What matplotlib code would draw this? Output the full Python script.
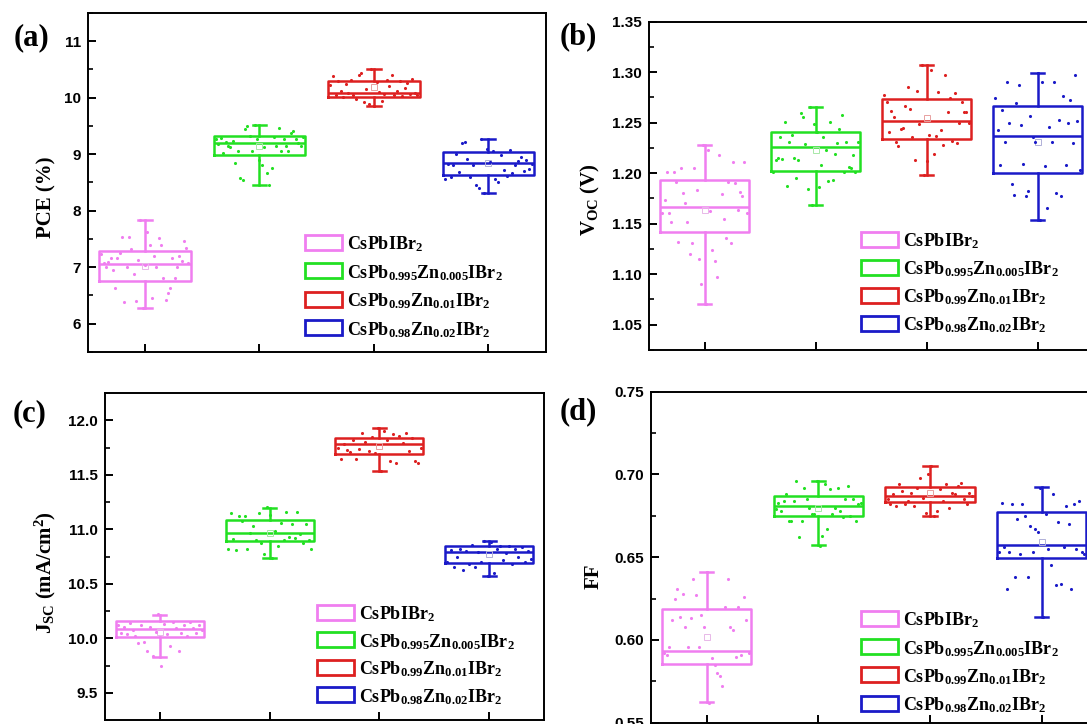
import matplotlib
matplotlib.use('Agg')
import matplotlib.pyplot as plt
from matplotlib.ticker import MultipleLocator, FixedLocator, NullFormatter
from matplotlib.patches import Rectangle
import numpy as np

plt.rcParams.update({
    'font.family': 'Liberation Sans',
    'font.weight': 'bold',
    'mathtext.fontset': 'custom',
    'mathtext.rm': 'Liberation Serif:bold',
    'mathtext.it': 'Liberation Serif:bold',
    'mathtext.bf': 'Liberation Serif:bold',
    'mathtext.default': 'rm',
})

# ---------------- data ----------------
samples = ['CsPbIBr$_2$',
           'CsPb$_{0.995}$Zn$_{0.005}$IBr$_2$',
           'CsPb$_{0.99}$Zn$_{0.01}$IBr$_2$',
           'CsPb$_{0.98}$Zn$_{0.02}$IBr$_2$']
colors = ['#F07EF0', '#22E022', '#DD2020', '#1A1AC8']
mean_colors = ['#E8B8E8', '#A8E8A8', '#E8A0A0', '#B0B0D8']

# PCE (%)
pce_q1 = [6.75, 8.98, 10.01, 8.63]
pce_med = [7.06, 9.20, 10.08, 8.85]
pce_q3 = [7.29, 9.33, 10.30, 9.04]
pce_lo = [6.28, 8.46, 9.86, 8.31]
pce_hi = [7.84, 9.51, 10.51, 9.26]
pce_mean = [7.02, 9.14, 10.19, 8.84]
pce_p0 = [7.24, 7.07, 7.01, 7.09, 7.16, 6.94, 6.63, 7.16, 7.25, 7.54, 6.39, 7.01, 7.54, 7.32,
          6.87, 6.40, 7.13, 7.84, 6.28, 7.04, 7.63, 7.40, 6.46, 7.19, 7.01, 7.52, 7.40, 6.81,
          6.42, 6.54, 6.63, 7.16, 6.81, 7.01, 7.19, 7.10, 7.46, 7.34, 7.07]
pce_p1 = [9.27, 9.18, 9.29, 9.02, 9.22, 9.15, 9.13, 9.24, 8.85, 9.06, 8.58, 8.55, 9.44, 9.49,
          9.33, 9.05, 9.51, 9.26, 8.90, 8.80, 9.13, 8.67, 8.46, 8.76, 9.30, 9.15, 9.46, 9.05,
          9.27, 9.15, 9.06, 9.38, 9.41, 9.27, 9.20, 9.15, 9.30]
pce_p2 = [10.22, 10.38, 10.05, 10.30, 10.12, 10.02, 10.25, 10.08, 10.31, 10.04, 9.98, 10.40,
          10.44, 9.92, 10.15, 9.88, 10.51, 9.86, 10.28, 10.10, 9.95, 10.06, 10.32, 10.20, 10.41,
          10.05, 10.12, 10.30, 10.03, 10.18, 10.26, 10.06, 10.34, 10.08, 10.05]
pce_p3 = [8.56, 8.82, 8.59, 8.80, 9.00, 8.68, 9.19, 9.21, 8.92, 8.60, 8.80, 8.45, 8.40, 9.26,
          8.31, 9.10, 8.86, 9.05, 8.56, 8.50, 8.98, 8.72, 8.62, 9.08, 8.66, 8.80, 8.88, 8.95,
          8.70, 8.90, 8.74, 8.82]

# Voc (V)
voc_q1 = [1.142, 1.202, 1.234, 1.200]
voc_med = [1.167, 1.226, 1.252, 1.237]
voc_q3 = [1.193, 1.241, 1.273, 1.267]
voc_lo = [1.071, 1.169, 1.198, 1.154]
voc_hi = [1.228, 1.266, 1.307, 1.299]
voc_mean = [1.164, 1.223, 1.255, 1.231]
voc_p0 = [1.161, 1.173, 1.201, 1.161, 1.152, 1.201, 1.191, 1.132, 1.205, 1.180, 1.171, 1.152,
          1.120, 1.131, 1.205, 1.183, 1.115, 1.090, 1.228, 1.071, 1.223, 1.163, 1.124, 1.113,
          1.097, 1.218, 1.179, 1.155, 1.136, 1.191, 1.131, 1.211, 1.190, 1.164, 1.181, 1.177,
          1.211, 1.161]
voc_p1 = [1.201, 1.213, 1.215, 1.236, 1.214, 1.251, 1.187, 1.231, 1.238, 1.215, 1.195, 1.213,
          1.260, 1.256, 1.229, 1.184, 1.266, 1.169, 1.249, 1.241, 1.186, 1.208, 1.236, 1.223,
          1.192, 1.251, 1.193, 1.219, 1.230, 1.244, 1.258, 1.201, 1.231, 1.206, 1.205, 1.218,
          1.201, 1.231]
voc_p2 = [1.277, 1.271, 1.241, 1.262, 1.256, 1.231, 1.227, 1.244, 1.245, 1.267, 1.285, 1.264,
          1.236, 1.213, 1.281, 1.249, 1.307, 1.198, 1.212, 1.238, 1.302, 1.219, 1.237, 1.280,
          1.243, 1.228, 1.297, 1.261, 1.274, 1.232, 1.279, 1.230, 1.250, 1.271, 1.261, 1.261,
          1.250]
voc_p3 = [1.274, 1.243, 1.208, 1.263, 1.231, 1.290, 1.250, 1.189, 1.178, 1.270, 1.287, 1.248,
          1.209, 1.177, 1.182, 1.257, 1.236, 1.231, 1.299, 1.154, 1.290, 1.207, 1.166, 1.246,
          1.231, 1.290, 1.180, 1.253, 1.177, 1.276, 1.208, 1.250, 1.272, 1.230, 1.297, 1.252,
          1.203]

# Jsc (mA/cm2)
jsc_q1 = [10.007, 10.893, 11.693, 10.694]
jsc_med = [10.085, 10.967, 11.780, 10.795]
jsc_q3 = [10.155, 11.084, 11.838, 10.844]
jsc_lo = [9.826, 10.733, 11.533, 10.570]
jsc_hi = [10.217, 11.195, 11.930, 10.893]
jsc_mean = [10.06, 10.97, 11.76, 10.77]
jsc_p0 = [10.12, 10.05, 10.10, 10.04, 10.14, 10.08, 10.02, 9.96, 10.12, 9.97, 9.88, 10.10,
          9.84, 10.06, 10.22, 9.75, 10.13, 10.04, 9.93, 10.15, 10.09, 9.88, 10.05, 10.12,
          10.02, 10.15, 10.09, 10.05, 10.12, 10.08]
jsc_p1 = [10.82, 11.15, 10.91, 10.81, 11.12, 11.08, 11.12, 10.82, 10.97, 11.03, 10.90, 11.15,
          10.87, 10.77, 11.20, 11.13, 10.74, 10.98, 10.85, 11.06, 10.90, 11.16, 10.93, 11.05,
          10.92, 11.16, 10.96, 10.87, 11.05, 10.90, 10.82]
jsc_p2 = [11.75, 11.64, 11.78, 11.73, 11.71, 11.82, 11.64, 11.74, 11.88, 11.80, 11.72, 11.85,
          11.70, 11.93, 11.53, 11.90, 11.82, 11.63, 11.87, 11.61, 11.86, 11.79, 11.88, 11.72,
          11.84, 11.63, 11.61, 11.75]
jsc_p3 = [10.70, 10.81, 10.65, 10.75, 10.82, 10.63, 10.80, 10.68, 10.86, 10.65, 10.79, 10.70,
          10.89, 10.57, 10.88, 10.60, 10.82, 10.85, 10.72, 10.78, 10.85, 10.68, 10.82, 10.75,
          10.84, 10.70, 10.80, 10.73]

# FF
ff_q1 = [0.5853, 0.6751, 0.6832, 0.6493]
ff_med = [0.5933, 0.6811, 0.6872, 0.6574]
ff_q3 = [0.6185, 0.6872, 0.6922, 0.6771]
ff_lo = [0.5623, 0.6574, 0.6751, 0.6140]
ff_hi = [0.6412, 0.6962, 0.7053, 0.6922]
ff_mean = [0.602, 0.680, 0.689, 0.659]
ff_p0 = [0.592, 0.591, 0.596, 0.612, 0.625, 0.631, 0.614, 0.628, 0.608, 0.596, 0.613, 0.637,
         0.627, 0.596, 0.615, 0.608, 0.641, 0.562, 0.589, 0.585, 0.580, 0.578, 0.572, 0.620,
         0.637, 0.608, 0.606, 0.590, 0.620, 0.591, 0.626, 0.612, 0.592]
ff_p1 = [0.679, 0.683, 0.678, 0.684, 0.688, 0.672, 0.672, 0.684, 0.696, 0.662, 0.672, 0.692,
         0.685, 0.680, 0.676, 0.676, 0.696, 0.657, 0.663, 0.694, 0.667, 0.691, 0.676, 0.680,
         0.692, 0.678, 0.674, 0.685, 0.693, 0.675, 0.685, 0.672, 0.682, 0.683]
ff_p2 = [0.685, 0.682, 0.688, 0.681, 0.694, 0.690, 0.682, 0.684, 0.689, 0.681, 0.692, 0.698,
         0.686, 0.677, 0.700, 0.705, 0.675, 0.678, 0.691, 0.684, 0.694, 0.680, 0.689, 0.688,
         0.693, 0.695, 0.685, 0.682, 0.689, 0.687]
ff_p3 = [0.653, 0.683, 0.656, 0.631, 0.653, 0.682, 0.638, 0.673, 0.652, 0.682, 0.675, 0.638,
         0.669, 0.653, 0.667, 0.665, 0.692, 0.614, 0.676, 0.655, 0.645, 0.688, 0.633, 0.671,
         0.634, 0.656, 0.681, 0.670, 0.631, 0.682, 0.655, 0.684, 0.653, 0.652]

# ---------------- figure ----------------
W, H = 1087, 724
fig = plt.figure(figsize=(W / 100, H / 100), dpi=100)


def add_ax(l, r, t, b):
    return fig.add_axes([l / W, 1 - b / H, (r - l) / W, (b - t) / H])


SERIF = 'Liberation Serif'

panels = [
    dict(box=(87.7, 545.7, 13, 351.8), ylim=(5.5, 11.5), major=1, minor=0.5, fmt='%g',
         stats=(pce_q1, pce_med, pce_q3, pce_lo, pce_hi, pce_mean),
         pts=(pce_p0, pce_p1, pce_p2, pce_p3),
         ylabel='PCE (%)', ylab_xy=(-0.069, 0.457), tag='(a)', tag_xy=(31, 38),
         leg=(305, 242, 28.6)),
    dict(box=(649, 1093, 21.7, 350), ylim=(1.025, 1.35), major=0.05, minor=0.025, fmt='%.2f',
         stats=(voc_q1, voc_med, voc_q3, voc_lo, voc_hi, voc_mean),
         pts=(voc_p0, voc_p1, voc_p2, voc_p3),
         ylabel='V$_{OC}$ (V)', ylab_xy=(-0.106, 0.457), tag='(b)', tag_xy=(578, 37),
         leg=(861, 239, 28.0)),
    dict(box=(105, 544, 393, 720), ylim=(9.25, 12.25), major=0.5, minor=0.25, fmt='%.1f',
         stats=(jsc_q1, jsc_med, jsc_q3, jsc_lo, jsc_hi, jsc_mean),
         pts=(jsc_p0, jsc_p1, jsc_p2, jsc_p3),
         ylabel='J$_{SC}$ (mA/cm$^{2}$)', ylab_xy=(-0.106, 0.45), tag='(c)', tag_xy=(30, 414),
         leg=(317, 612, 27.5)),
    dict(box=(650.7, 1097.5, 391.7, 722.7), ylim=(0.55, 0.75), major=0.05, minor=0.025, fmt='%.2f',
         stats=(ff_q1, ff_med, ff_q3, ff_lo, ff_hi, ff_mean),
         pts=(ff_p0, ff_p1, ff_p2, ff_p3),
         ylabel='FF', ylab_xy=(-0.106, 0.443), tag='(d)', tag_xy=(578, 412),
         leg=(861, 618, 28.4)),
]

positions = [1, 2, 3, 4]
box_w = 0.8
for p in panels:
    l, r, t, b = p['box']
    ax = add_ax(l, r, t, b)
    q1, med, q3, lo, hi, mean = p['stats']
    for i in range(4):
        st = [dict(q1=q1[i], med=med[i], q3=q3[i], whislo=lo[i], whishi=hi[i],
                   mean=mean[i], fliers=[])]
        c = colors[i]
        lp = dict(color=c, linewidth=1.8, solid_capstyle='projecting')
        ax.bxp(st, positions=[positions[i]], widths=box_w, capwidths=0.12,
               showfliers=False, showmeans=True, patch_artist=False,
               boxprops=lp, whiskerprops=lp, capprops=lp,
               medianprops=dict(color=c, linewidth=1.8),
               meanprops=dict(marker='s', markersize=4, markerfacecolor='none',
                              markeredgecolor=mean_colors[i], markeredgewidth=0.7),
               manage_ticks=False, zorder=2)
        vals = np.asarray(p['pts'][i])
        xs = positions[i] + np.linspace(-0.38, 0.38, len(vals))
        ax.scatter(xs, vals, s=5, color=c, linewidths=0, zorder=3)

    ax.set_xlim(0.5, 4.5)
    ax.set_ylim(*p['ylim'])
    ax.xaxis.set_major_locator(FixedLocator(positions))
    ax.xaxis.set_major_formatter(NullFormatter())
    ax.yaxis.set_major_locator(MultipleLocator(p['major']))
    ax.yaxis.set_minor_locator(MultipleLocator(p['minor']))
    ax.yaxis.set_major_formatter(matplotlib.ticker.FormatStrFormatter(p['fmt']))
    ax.tick_params(axis='both', which='major', direction='in', length=6, width=1.4,
                   labelsize=11, pad=5.0, top=False, right=False)
    ax.tick_params(axis='both', which='minor', direction='in', length=3.5, width=1.2,
                   top=False, right=False)
    ax.tick_params(axis='x', which='minor', bottom=False)
    for lab in ax.get_yticklabels():
        lab.set_fontweight('bold')
    for s in ax.spines.values():
        s.set_linewidth(1.4)

    ax.set_ylabel(p['ylabel'], family=SERIF, fontweight='bold', fontsize=15)
    ax.yaxis.set_label_coords(*p['ylab_xy'])

    # panel tag
    fig.text(p['tag_xy'][0] / W, 1 - p['tag_xy'][1] / H, p['tag'], family=SERIF,
             fontweight='bold', fontsize=22, ha='center', va='center')

    # legend (manual, in figure pixels)
    hx, hy, dy = p['leg']
    for i in range(4):
        yc = hy + i * dy
        rect = Rectangle((hx / W, 1 - (yc + 7.5) / H), 37 / W, 15 / H,
                         transform=fig.transFigure, facecolor='white',
                         edgecolor=colors[i], linewidth=2.0, zorder=5)
        fig.add_artist(rect)
        fig.text((hx + 42) / W, 1 - yc / H, samples[i], family=SERIF, fontweight='bold',
                 fontsize=13, ha='left', va='center_baseline', zorder=6)

fig.savefig('out.png', dpi=100)
